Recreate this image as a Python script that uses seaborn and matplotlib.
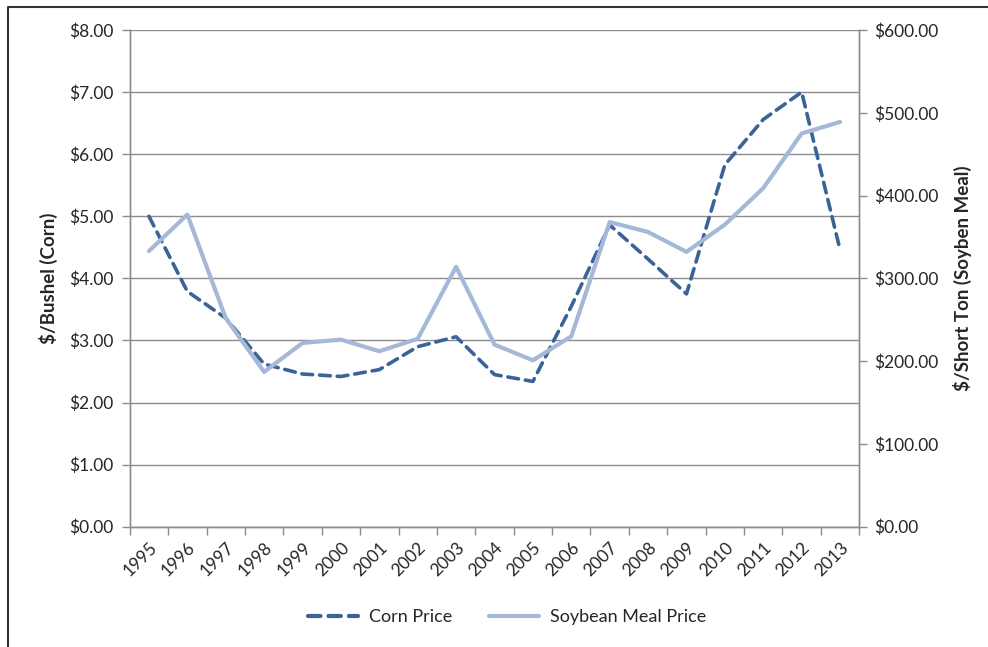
import matplotlib
matplotlib.use("Agg")
import matplotlib.pyplot as plt
import matplotlib.ticker as mticker
from matplotlib.lines import Line2D
import seaborn as sns
import pandas as pd

# Data
years = [str(y) for y in range(1995, 2014)]
corn_price = [5.00, 3.79, 3.36, 2.62, 2.46, 2.42, 2.53, 2.90, 3.06, 2.45,
              2.34, 3.55, 4.86, 4.31, 3.75, 5.83, 6.56, 7.00, 4.46]
soy_price = [333, 377, 252, 187, 222, 226, 212, 227, 314, 220,
             201, 230, 368, 356, 332, 365, 409, 475, 489]

df = pd.DataFrame({"Year": years, "Corn": corn_price, "Soy": soy_price})

sns.set_theme(style="white")
plt.rcParams["font.family"] = ["Lato", "DejaVu Sans"]

corn_color = "#3B6496"
soy_color = "#A5B8D8"
grid_color = "#8C8C8C"
fs = 12.5

fig = plt.figure(figsize=(9.88, 6.47), dpi=100)
ax = fig.add_axes([0.1313, 0.1859, 0.7384, 0.7677])
ax2 = ax.twinx()

sns.lineplot(data=df, x="Year", y="Corn", ax=ax, color=corn_color,
             linewidth=2.6, legend=False)
ax.lines[0].set_dashes((3.0, 1.9))
ax.lines[0].set_dash_capstyle("round")

sns.lineplot(data=df, x="Year", y="Soy", ax=ax2, color=soy_color,
             linewidth=3.0, legend=False)

ax.set_xlim(-0.5, len(years) - 0.5)
ax.set_ylim(0, 8)
ax2.set_ylim(0, 600)
ax.set_yticks(range(0, 9))
ax2.set_yticks(range(0, 601, 100))
ax.yaxis.set_major_formatter(mticker.FuncFormatter(lambda v, p: f"${v:.2f}"))
ax2.yaxis.set_major_formatter(mticker.FuncFormatter(lambda v, p: f"${v:.2f}"))

ax.grid(axis="y", color=grid_color, linewidth=1.0)
ax.set_axisbelow(True)

# category boundaries carry the tick marks
ax.set_xticks([i - 0.5 for i in range(len(years) + 1)], minor=True)
ax.tick_params(axis="x", which="minor", bottom=True, length=6, width=1,
               color=grid_color)
ax.tick_params(axis="x", which="major", bottom=False, length=0, pad=9,
               labelsize=fs)
ax.set_xticks(range(len(years)))
ax.set_xticklabels(years, rotation=45, ha="right", rotation_mode="anchor")

ax.tick_params(axis="y", left=True, length=6, width=1, color=grid_color,
               pad=6, labelsize=fs)
ax2.tick_params(axis="y", right=True, length=6, width=1, color=grid_color,
                pad=5, labelsize=fs)

for a in (ax, ax2):
    for s in a.spines.values():
        s.set_color(grid_color)
        s.set_linewidth(1.0)
    a.spines["top"].set_visible(False)

ax.set_xlabel("")
ax.set_ylabel("$/Bushel (Corn)", fontsize=13.5, fontweight="bold", labelpad=8)
ax2.set_ylabel("$/Short Ton (Soyben Meal)", fontsize=13.5, fontweight="bold",
               labelpad=10)

handles = [
    Line2D([], [], color=corn_color, linewidth=3.0, dashes=(3.0, 1.9),
           dash_capstyle="round"),
    Line2D([], [], color=soy_color, linewidth=3.0),
]
fig.legend(handles, ["Corn Price", "Soybean Meal Price"], loc="center",
           bbox_to_anchor=(507 / 988, 1 - 617 / 647), ncol=2, frameon=False,
           fontsize=13, handlelength=2.8, handletextpad=0.6, columnspacing=2.0)

# outer frame (left and top edges visible)
fig.add_artist(Line2D([0.0086, 0.0086, 1.0], [0.0, 0.989, 0.989],
                      transform=fig.transFigure, color="#333333",
                      linewidth=1.5))

fig.savefig("out.png", dpi=100)
